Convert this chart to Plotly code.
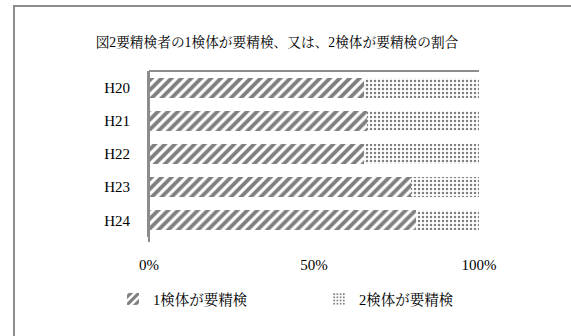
import plotly.graph_objects as go

categories = ["H20", "H21", "H22", "H23", "H24"]
one_sample = [65, 66, 65, 79.5, 81]
two_sample = [35, 34, 35, 20.5, 19]
series_names = ["1検体が要精検", "2検体が要精検"]
title_text = "図2要精検者の1検体が要精検、又は、2検体が要精検の割合"

FONT = "Liberation Serif, 'Noto Serif CJK JP', 'Noto Sans CJK JP', serif"

fig = go.Figure()
fig.add_trace(go.Bar(
    y=categories, x=one_sample, orientation="h", name=series_names[0], legend="legend",
    marker=dict(color="white", line=dict(width=0),
                pattern=dict(shape="/", fgcolor="black", bgcolor="white", size=7, solidity=0.55)),
))
fig.add_trace(go.Bar(
    y=categories, x=two_sample, orientation="h", name=series_names[1], legend="legend2",
    marker=dict(color="white", line=dict(width=0),
                pattern=dict(shape=".", fgcolor="black", bgcolor="white", size=4, solidity=0.3)),
))

legend_common = dict(xref="container", yref="container", xanchor="left",
                     y=1-299/336, yanchor="middle", font=dict(size=14.5),
                     itemwidth=30, bgcolor="rgba(0,0,0,0)")

fig.update_layout(
    barmode="stack",
    bargap=0.4,
    width=571, height=336,
    margin=dict(l=149, r=92, t=71, b=99, autoexpand=False),
    paper_bgcolor="white", plot_bgcolor="white",
    font=dict(family=FONT, size=15, color="black"),
    title=dict(text=title_text, x=277/571, xanchor="center", xref="container",
               y=1-42/336, yanchor="middle", yref="container",
               font=dict(size=13.7, family=FONT, color="black")),
    xaxis=dict(range=[0, 100], tickvals=[0, 50, 100], ticktext=["0%", "50%", "100%"],
               showgrid=False, zeroline=False, showline=False, ticks="",
               ticklabelstandoff=17, tickfont=dict(size=15)),
    yaxis=dict(autorange="reversed", showgrid=False, zeroline=False,
               showline=True, linecolor="#8c8c8c", linewidth=2, ticks="",
               ticklabelstandoff=14, tickfont=dict(size=15)),
    legend=dict(x=113/571, **legend_common),
    legend2=dict(x=319/571, **legend_common),
    showlegend=True,
)

# top border of plot area and outer chart frame
fig.add_shape(type="line", xref="paper", yref="paper", x0=0, x1=1, y0=1, y1=1,
              line=dict(color="#8c8c8c", width=2))
fig.add_shape(type="line", xref="paper", yref="paper", x0=0, x1=0, y0=1, y1=-0.03,
              line=dict(color="#8c8c8c", width=2))
fig.add_shape(type="rect", xref="paper", yref="paper",
              x0=(14-149)/330, x1=(600-149)/330,
              y0=(336-400-99)/166, y1=(336-6-99)/166,
              line=dict(color="#8c8c8c", width=2), layer="below")

fig.write_html("out.html")
